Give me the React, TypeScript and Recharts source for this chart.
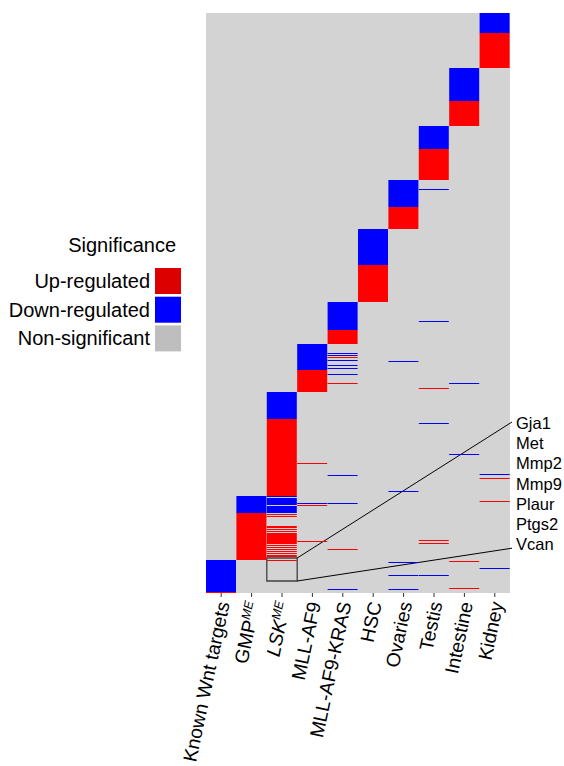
import React from "react";
import {
  Bar,
  BarChart,
  CartesianGrid,
  Cell,
  ReferenceArea,
  XAxis,
  YAxis,
} from "recharts";

// gene rows, counted from the top of the heatmap
const ROWS = 580;

const COLUMNS = [
  "Known Wnt targets",
  "GMP",
  "LSK",
  "MLL-AF9",
  "MLL-AF9-KRAS",
  "HSC",
  "Ovaries",
  "Testis",
  "Intestine",
  "Kidney",
];
const SUPERSCRIPT: Record<string, string> = { GMP: "ME", LSK: "ME" };

// [first row, row count, status]  U = up, D = down; everything else is non-significant
type Seg = [number, number, "U" | "D"];

const knownWnt: Seg[] = [[547, 32, "D"], [579, 1, "U"]];
const gmp: Seg[] = [[483, 17, "D"], [500, 47, "U"]];
const lsk: Seg[] = [
  [379, 27, "D"], [406, 77, "U"], [483, 1, "D"], [485, 7, "D"], [493, 7, "D"],
  [501, 1, "U"], [503, 1, "U"], [513, 2, "U"], [516, 1, "U"], [518, 1, "U"],
  [520, 11, "U"], [532, 1, "U"], [534, 1, "U"], [536, 1, "U"], [538, 1, "U"],
  [540, 1, "U"], [542, 2, "U"], [547, 1, "U"],
];
const mllAf9: Seg[] = [[331, 26, "D"], [357, 22, "U"], [450, 1, "U"], [490, 1, "D"], [492, 1, "U"], [528, 1, "U"]];
const mllAf9Kras: Seg[] = [
  [289, 28, "D"], [317, 14, "U"], [340, 1, "D"], [342, 1, "D"], [344, 1, "U"],
  [347, 1, "D"], [352, 1, "D"], [355, 1, "D"], [361, 1, "D"], [370, 1, "U"],
  [462, 1, "D"], [490, 1, "D"], [536, 1, "U"], [576, 1, "D"],
];
const hsc: Seg[] = [[216, 36, "D"], [252, 37, "U"]];
const ovaries: Seg[] = [[167, 27, "D"], [194, 22, "U"], [348, 1, "D"], [478, 1, "D"], [549, 1, "D"], [562, 1, "D"], [576, 1, "D"]];
const testis: Seg[] = [
  [113, 23, "D"], [136, 31, "U"], [176, 1, "D"], [308, 1, "D"], [375, 1, "U"],
  [410, 1, "D"], [527, 1, "U"], [530, 1, "U"], [562, 1, "D"],
];
const intestine: Seg[] = [[55, 33, "D"], [88, 25, "U"], [370, 1, "D"], [441, 1, "D"], [548, 1, "U"], [575, 1, "U"]];
const kidney: Seg[] = [[0, 20, "D"], [20, 35, "U"], [461, 1, "D"], [465, 1, "U"], [488, 1, "U"], [555, 1, "D"]];

const SEGMENTS = [knownWnt, gmp, lsk, mllAf9, mllAf9Kras, hsc, ovaries, testis, intestine, kidney];

// zoomed gene block in the LSK column
const ZOOM_ROWS = [545, 568];
const GENES = ["Gja1", "Met", "Mmp2", "Mmp9", "Plaur", "Ptgs2", "Vcan"];

const LEGEND = [
  { label: "Up-regulated", color: "#DD0000" },
  { label: "Down-regulated", color: "#0000FF" },
  { label: "Non-significant", color: "#BEBEBE" },
];

const FILL: Record<string, string> = { U: "#FF0000", D: "#0000FF", N: "transparent" };
const FONT = "'Liberation Sans', Arial, Helvetica, sans-serif";
const W = 564;
const H = 766;
const AXIS_H = 173;
const MARGIN = { top: 13, right: 54, bottom: 0, left: 206 };

function toRuns(segs: Seg[]) {
  const runs: { len: number; st: string }[] = [];
  let pos = 0;
  [...segs].sort((a, b) => a[0] - b[0]).forEach(([start, len, st]) => {
    if (start > pos) runs.push({ len: start - pos, st: "N" });
    runs.push({ len, st });
    pos = start + len;
  });
  if (pos < ROWS) runs.push({ len: ROWS - pos, st: "N" });
  return runs;
}

const runs = SEGMENTS.map(toRuns);
const maxRuns = Math.max(...runs.map((r) => r.length));
const data = COLUMNS.map((name, i) => {
  const row: Record<string, string | number> = { name };
  for (let k = 0; k < maxRuns; k++) row[`s${k}`] = runs[i][k] ? runs[i][k].len : 0;
  return row;
});

function ColumnTick(props: any) {
  const { x, y, payload } = props;
  const name = payload.value as string;
  const sup = SUPERSCRIPT[name];
  return (
    <g transform={`translate(${x + 2},${y + 3})`}>
      <text
        transform="rotate(-78)"
        textAnchor="end"
        dy="0.35em"
        fontSize={19.3}
        fontFamily={FONT}
        fill="#000"
        fontStyle={name === "LSK" ? "italic" : "normal"}
      >
        {name}
        {sup && (
          <tspan fontSize={12.5} dy={-7} fontStyle="italic">
            {sup}
          </tspan>
        )}
      </text>
    </g>
  );
}

function ZoomLabels(props: any) {
  const { viewBox } = props;
  const right = W - MARGIN.right;
  const boxRight = viewBox.x + viewBox.width;
  const top = 423;
  const step = 20.2;
  return (
    <g>
      <line x1={boxRight} y1={viewBox.y} x2={right + 2} y2={top - 1} stroke="#000" strokeWidth={1} />
      <line x1={boxRight} y1={viewBox.y + viewBox.height} x2={right + 2} y2={top + step * (GENES.length - 1) + 4} stroke="#000" strokeWidth={1} />
      {GENES.map((g, i) => (
        <text key={g} x={right + 6} y={top + step * i} dominantBaseline="central" fontSize={16.5} fontFamily={FONT} fill="#000">
          {g}
        </text>
      ))}
    </g>
  );
}

export default function App() {
  return (
    <div style={{ position: "relative", width: W, height: H, background: "#fff" }}>
      <style>{`body{margin:0}`}</style>
      <BarChart width={W} height={H} data={data} margin={MARGIN} barCategoryGap={0} barGap={0}>
        <CartesianGrid horizontal={false} vertical={false} fill="#D3D3D3" fillOpacity={1} />
        <XAxis
          dataKey="name"
          interval={0}
          axisLine={false}
          tickLine={{ stroke: "#333" }}
          tickSize={4}
          height={AXIS_H}
          tick={<ColumnTick />}
        />
        <YAxis hide type="number" domain={[0, ROWS]} reversed allowDataOverflow />
        {Array.from({ length: maxRuns }, (_, k) => (
          <Bar key={k} dataKey={`s${k}`} stackId="heat" isAnimationActive={false} legendType="none">
            {COLUMNS.map((c, i) => (
              <Cell key={c} fill={FILL[runs[i][k] ? runs[i][k].st : "N"]} />
            ))}
          </Bar>
        ))}
        <ReferenceArea
          x1="LSK"
          x2="LSK"
          y1={ZOOM_ROWS[0]}
          y2={ZOOM_ROWS[1]}
          fill="none"
          stroke="#404040"
          strokeWidth={1.3}
          ifOverflow="visible"
          label={(p: any) => <ZoomLabels viewBox={p.viewBox} />}
        />
      </BarChart>
      <svg width={200} height={130} style={{ position: "absolute", left: 0, top: 230 }}>
        <text x={176} y={15} dominantBaseline="central" textAnchor="end" fontSize={20} fontFamily={FONT}>
          Significance
        </text>
        {LEGEND.map((l, i) => (
          <g key={l.label}>
            <rect x={155} y={38 + i * 28.7} width={26} height={26} fill={l.color} />
            <text x={150} y={51 + i * 28.7} dominantBaseline="central" textAnchor="end" fontSize={20} fontFamily={FONT}>
              {l.label}
            </text>
          </g>
        ))}
      </svg>
    </div>
  );
}
